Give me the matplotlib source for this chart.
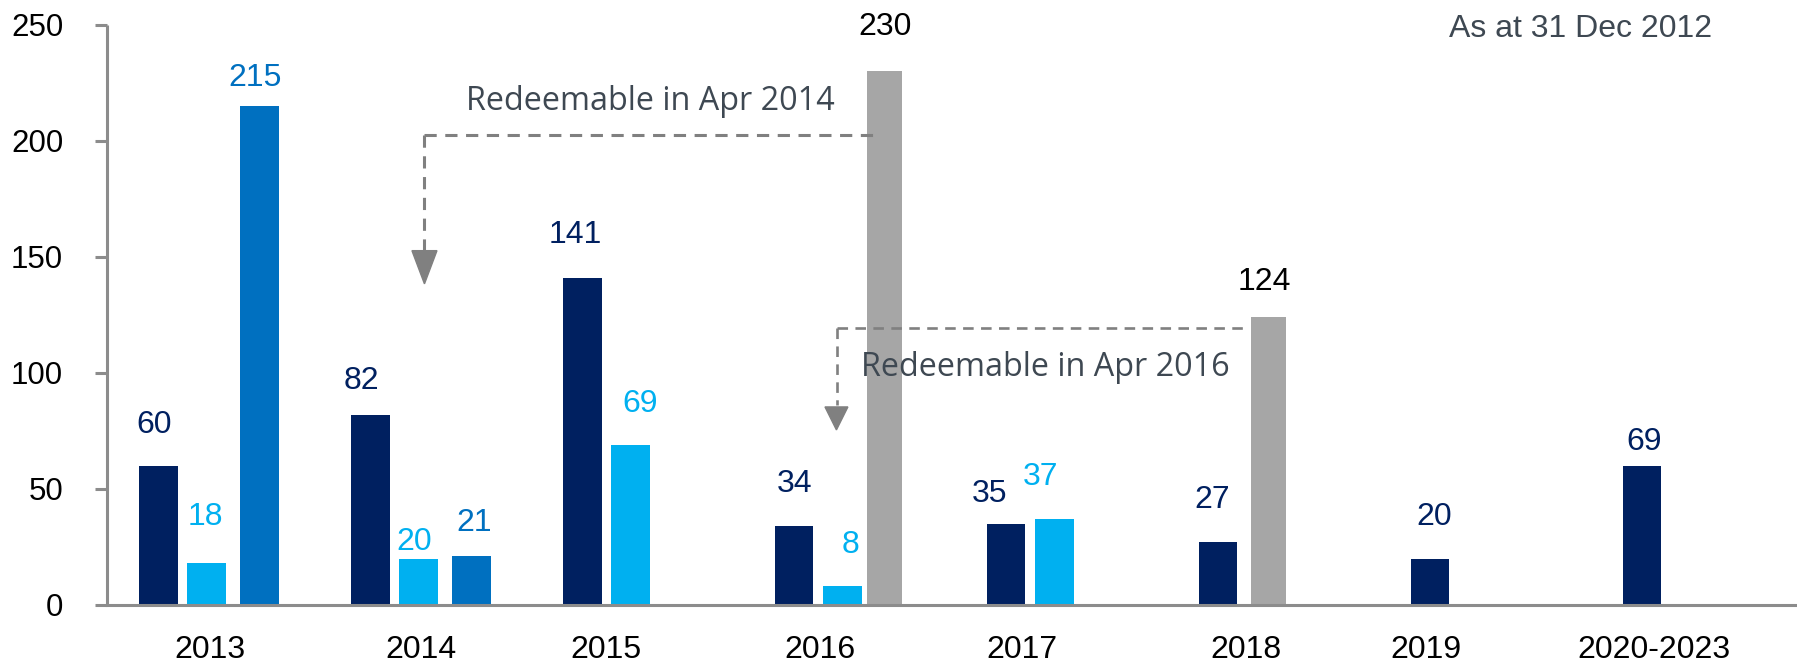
import matplotlib
matplotlib.use("Agg")
import matplotlib.pyplot as plt
from matplotlib.patches import Polygon
import numpy as np

# ---------------- data ----------------
categories = ['2013', '2014', '2015', '2016', '2017', '2018', '2019', '2020-2023']
dark_values = [60, 82, 141, 34, 35, 27, 20, 60]
dark_labels = ['60', '82', '141', '34', '35', '27', '20', '69']
light_values = [18, 20, 69, 8, 37, None, None, None]
medium_values = [215, 21, None, None, None, None, None, None]
grey_values = [None, None, None, 230, None, 124, None, None]
y_ticks = [0, 50, 100, 150, 200, 250]
note_2014 = 'Redeemable in Apr 2014'
note_2016 = 'Redeemable in Apr 2016'
as_at = 'As at 31 Dec 2012'

# ---------------- style / layout ----------------
C_DARK = '#002060'
C_LIGHT = '#00B0F0'
C_MED = '#0070C0'
C_GREY = '#A6A6A6'
C_AXIS = '#8C8C8C'
C_NOTE = '#3E4852'
C_ARROW = '#808080'

plt.rcParams['font.family'] = ['Liberation Sans', 'DejaVu Sans']
FS_Y = 22.5
FS = 23

fig = plt.figure(figsize=(17.97, 6.66), dpi=100)
ax = fig.add_axes([0.0598, 0.0916, 0.9402, 0.8716])

W = 0.1816
idx = np.arange(len(categories))
light_off = 0.227
med_off = 0.4774
grey_off = [None, None, None, 0.4267, None, 0.2387, None, None]
grey_w = 0.164

# label offsets in pixels (dx, dy) relative to bar top centre
dark_lab_off = [(-4, 41), (-9, 34), (-7, 43), (0, 42), (-17, 30), (-6, 42), (4, 42), (2, 24)]
light_lab_off = [(-1.5, 46), (-4, 17), (10, 41), (8, 41), (-14, 42.5), None, None, None]
med_lab_off = [(-4, 28), (3, 33)]
grey_lab_off = {3: (0, 43.5), 5: (-4, 35.5)}


def label(x, v, text, off, color):
    ax.annotate(text, xy=(x, v), xytext=off, textcoords='offset pixels',
                ha='center', va='center', fontsize=FS, color=color, zorder=6)


for i, v in enumerate(dark_values):
    ax.bar(idx[i], v, width=W, color=C_DARK, zorder=3)
    label(idx[i], v, dark_labels[i], dark_lab_off[i], C_DARK)
for i, v in enumerate(light_values):
    if v is None:
        continue
    ax.bar(idx[i] + light_off, v, width=W, color=C_LIGHT, zorder=3)
    label(idx[i] + light_off, v, str(v), light_lab_off[i], C_LIGHT)
for i, v in enumerate(medium_values):
    if v is None:
        continue
    ax.bar(idx[i] + med_off, v, width=W, color=C_MED, zorder=3)
    label(idx[i] + med_off, v, str(v), med_lab_off[i], C_MED)
for i, v in enumerate(grey_values):
    if v is None:
        continue
    ax.bar(idx[i] + grey_off[i], v, width=grey_w, color=C_GREY, zorder=3)
    label(idx[i] + grey_off[i], v, str(v), grey_lab_off[i], 'black')

# axes
ax.set_xlim(-0.2396, 7.730)
ax.set_ylim(0, 250)
ax.set_yticks(y_ticks)
ax.tick_params(axis='y', length=8.4, width=2.2, color=C_AXIS, pad=23.5,
               labelsize=FS_Y, labelcolor='black')
tick_pos = [0.244, 1.2415, 2.114, 3.119, 4.076, 5.132, 5.981, 7.056]
ax.set_xticks(tick_pos)
ax.set_xticklabels(categories)
ax.tick_params(axis='x', length=0, pad=21.5, labelsize=FS, labelcolor='black')
for s in ['top', 'right']:
    ax.spines[s].set_visible(False)
for s in ['left', 'bottom']:
    ax.spines[s].set_color(C_AXIS)
    ax.spines[s].set_linewidth(2.2)
    ax.spines[s].set_zorder(4)
ax.spines['left'].set_capstyle('butt')

# annotations: dashed redemption arrows
dash = (0, (4.0, 2.8))
ax.plot([1.2557, 3.409], [202.4, 202.4], color=C_ARROW, lw=2.2, ls=dash, zorder=5,
        dash_capstyle='butt')
ax.plot([1.2557, 1.2557], [202.4, 153.0], color=C_ARROW, lw=2.2, ls=dash, zorder=5,
        dash_capstyle='butt')
ax.add_patch(Polygon([[1.2557 - 0.059, 152.6], [1.2557 + 0.059, 152.6], [1.2557, 138.3]],
                     closed=True, color=C_ARROW, zorder=5))

ax.plot([3.203, 5.130], [119.3, 119.3], color=C_ARROW, lw=1.9, ls=dash, zorder=5,
        dash_capstyle='butt')
ax.plot([3.203, 3.203], [119.3, 86.0], color=C_ARROW, lw=1.9, ls=dash, zorder=5,
        dash_capstyle='butt')
ax.add_patch(Polygon([[3.199 - 0.054, 85.3], [3.199 + 0.054, 85.3], [3.199, 75.4]],
                     closed=True, color=C_ARROW, zorder=5))

ax.text(1.4514, 217.0, note_2014, fontsize=23.3, color=C_NOTE, ha='left', va='center',
        family=['Open Sans', 'DejaVu Sans'], zorder=6)
ax.text(3.314, 102.1, note_2016, fontsize=23.3, color=C_NOTE, ha='left', va='center',
        family=['Open Sans', 'DejaVu Sans'], zorder=6)
ax.text(6.088, 248.1, as_at, fontsize=23, color=C_NOTE, ha='left', va='center', zorder=6)

fig.savefig('out.png', dpi=100)
